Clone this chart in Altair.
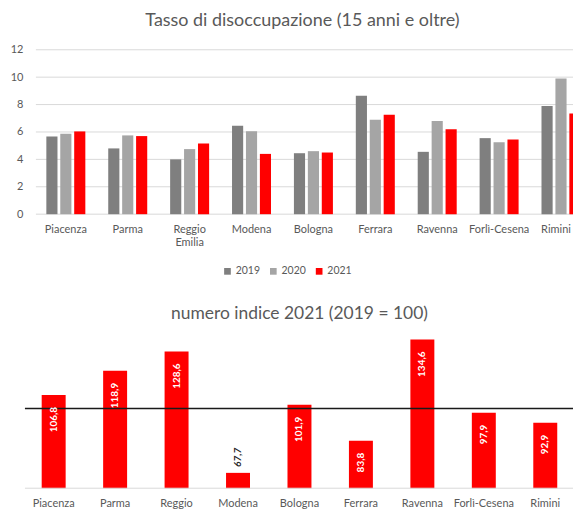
import altair as alt
import pandas as pd

provinces = ["Piacenza", "Parma", "Reggio Emilia", "Modena", "Bologna",
             "Ferrara", "Ravenna", "Forlì-Cesena", "Rimini"]
years = ["2019", "2020", "2021"]
rate_2019 = [5.67, 4.8, 4.0, 6.45, 4.45, 8.65, 4.55, 5.55, 7.9]
rate_2020 = [5.87, 5.75, 4.75, 6.05, 4.6, 6.9, 6.8, 5.25, 9.9]
rate_2021 = [6.04, 5.7, 5.15, 4.4, 4.5, 7.25, 6.2, 5.45, 7.35]
index_2021 = [106.8, 118.9, 128.6, 67.7, 101.9, 83.8, 134.6, 97.9, 92.9]
y_ticks = [0, 2, 4, 6, 8, 10, 12]
reference_level = [100]
index_floor = [60]

rows = []
for i, p in enumerate(provinces):
    for y, vals in zip(years, [rate_2019, rate_2020, rate_2021]):
        rows.append({"prov": p, "year": y, "rate": vals[i]})
df = pd.DataFrame(rows)
idx_df = pd.DataFrame({"prov": provinces, "idx": index_2021})

FONT = "Lato"
GREY = "#595959"
LABEL_EXPR = "datum.value == 'Reggio Emilia' ? ['Reggio', 'Emilia'] : datum.value"

WT = 583   # top plot width (right part is cut by the page edge, as in the original)
WB = 555   # bottom plot width

yscale = alt.Scale(domain=[0, 12])
yaxis = alt.Axis(values=y_ticks, ticks=False, domain=False, grid=False, labelOverlap=False,
                 labelColor=GREY, labelFontSize=11, labelPadding=0)

grid = alt.Chart(pd.DataFrame({"g": y_ticks})).mark_rule(color="#d9d9d9", strokeWidth=1).encode(
    y=alt.Y("g:Q", scale=yscale, title=None, axis=yaxis),
    x=alt.value(13), x2=alt.value(WT),
)

bars_top = alt.Chart(df).mark_bar().encode(
    x=alt.X("prov:N", sort=provinces, title=None,
            scale=alt.Scale(paddingInner=0.37, paddingOuter=0.378),
            axis=alt.Axis(labelAngle=0, ticks=False, domain=False, grid=False, labelExpr=LABEL_EXPR,
                          labelFontSize=11, labelColor=GREY, labelPadding=9, labelLineHeight=13,
                          labelOffset={"condition": {"test": "datum.value == 'Rimini'", "value": -5},
                                       "value": 0})),
    xOffset=alt.XOffset("year:N", sort=years, scale=alt.Scale(paddingInner=0.2, paddingOuter=0)),
    y=alt.Y("rate:Q", scale=yscale, title=None, axis=yaxis),
    color=alt.Color("year:N", scale=alt.Scale(domain=years, range=["#7f7f7f", "#a5a5a5", "#ff0000"]),
                    legend=alt.Legend(orient="none", legendX=200, legendY=217, direction="horizontal",
                                      title=None, symbolType="square", symbolSize=45,
                                      labelFontSize=10.5, labelColor=GREY, columnPadding=8,
                                      labelOffset=3, symbolStrokeWidth=0)),
)

top = alt.layer(grid, bars_top).properties(
    width=WT, height=165,
    title=alt.TitleParams("Tasso di disoccupazione (15 anni e oltre)", fontSize=18, color=GREY,
                          font=FONT, fontWeight="normal", offset=14, anchor="middle", dx=-11),
)

base = alt.Chart(idx_df).transform_calculate(
    lab="replace(format(datum.idx, '.1f'), '.', ',')"
)
xb = alt.X("prov:N", sort=provinces, title=None,
           scale=alt.Scale(paddingInner=0.61, paddingOuter=0.305),
           axis=alt.Axis(labelAngle=0, ticks=False, domain=False, grid=False, labelExpr=LABEL_EXPR,
                         labelFontSize=11, labelColor=GREY, labelPadding=9, labelLineHeight=13))
yb = alt.Y("idx:Q", scale=alt.Scale(domain=[60, 140]), axis=None)

bars = base.mark_bar(color="#ff0000").encode(x=xb, y=yb, y2=alt.datum(60))
floor = alt.Chart(pd.DataFrame({"v": index_floor})).mark_rule(color="#d9d9d9", strokeWidth=1).encode(
    y=alt.Y("v:Q", scale=alt.Scale(domain=[60, 140]), axis=None),
    x=alt.value(2), x2=alt.value(WT))
ref = alt.Chart(pd.DataFrame({"v": reference_level})).mark_rule(color="#1a1a1a", strokeWidth=1.5).encode(
    y=alt.Y("v:Q", scale=alt.Scale(domain=[60, 140]), axis=None),
    x=alt.value(2), x2=alt.value(WT))
inside = base.transform_filter("datum.idx >= 75").mark_text(
    angle=270, align="right", baseline="middle", dx=-12, color="white",
    fontWeight="bold", fontSize=10, font=FONT).encode(x=xb, y=yb, text="lab:N")
outside = base.transform_filter("datum.idx < 75").mark_text(
    angle=270, align="left", baseline="middle", dx=6, color="#262626",
    fontWeight="bold", fontStyle="italic", fontSize=10, font=FONT).encode(x=xb, y=yb, text="lab:N")

bottom = alt.layer(bars, floor, ref, inside, outside).properties(
    width=WB, height=160,
    title=alt.TitleParams("numero indice 2021 (2019 = 100)", fontSize=17.5, color=GREY,
                          font=FONT, fontWeight="normal", offset=6, anchor="middle"),
)

chart = alt.vconcat(top, bottom, spacing=58).resolve_scale(x="independent").configure(
    font=FONT, padding={"left": 2, "top": 3, "right": -32, "bottom": 0}
).configure_view(stroke=None).configure_axis(labelFont=FONT).configure_legend(labelFont=FONT)

chart.save("out.html", embed_options={"renderer": "svg", "actions": False})
